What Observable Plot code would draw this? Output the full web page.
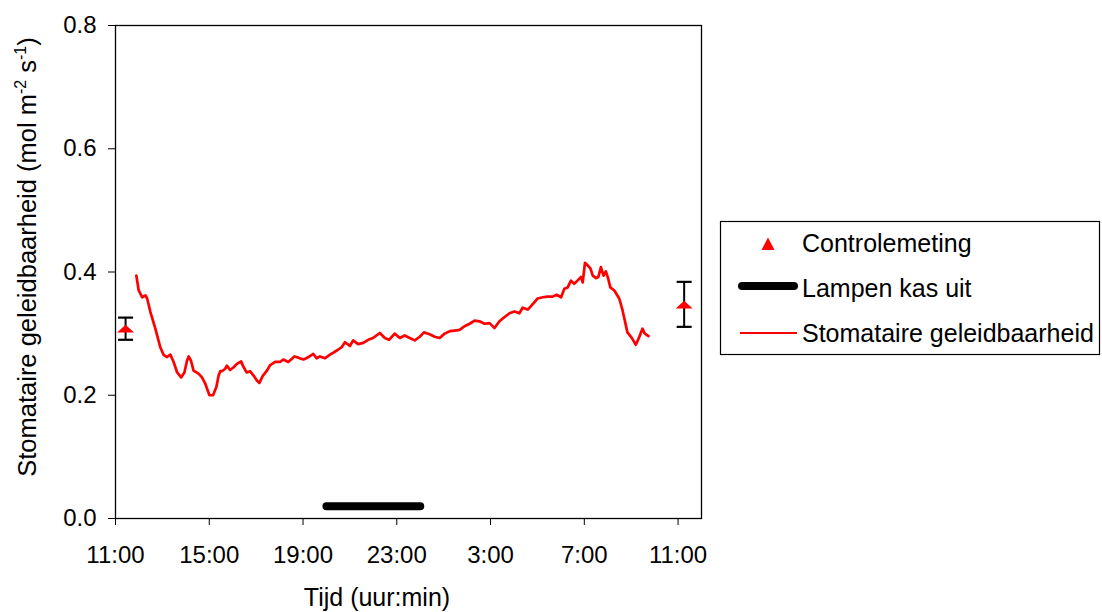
<!DOCTYPE html>
<html>
<head>
<meta charset="utf-8">
<script src="https://cdn.jsdelivr.net/npm/d3@7"></script>
<script src="https://cdn.jsdelivr.net/npm/@observablehq/plot@0.6"></script>
<style>
  html, body { margin: 0; padding: 0; background: white; }
  #chart svg { display: block; }
</style>
</head>
<body>
<div id="chart"></div>
<script>
// Time in hours since midnight of day 1 (values > 24 are the next day)
const hours = [11.89,11.99,12.14,12.28,12.35,12.49,12.70,12.91,13.06,13.20,13.34,13.48,13.63,13.80,13.94,14.05,14.12,14.22,14.33,14.54,14.69,14.83,14.93,15.01,15.16,15.30,15.40,15.47,
  15.54,15.68,15.75,15.89,16.03,16.18,16.36,16.46,16.60,16.74,16.89,17.03,17.14,17.29,17.46,17.60,17.81,18.02,18.16,18.37,18.63,18.80,19.01,
  19.09,19.23,19.44,19.58,19.72,19.94,20.15,20.29,20.46,20.65,20.79,21.00,21.14,21.35,21.57,21.78,21.99,22.28,22.49,22.67,
  22.91,23.13,23.34,23.55,23.77,23.98,24.16,24.40,24.62,24.83,25.04,25.26,25.47,25.68,25.89,26.11,
  26.32,26.53,26.74,26.96,27.17,27.38,27.60,27.81,28.02,28.23,28.37,28.59,28.80,29.01,29.23,29.44,29.65,29.82,
  30.01,30.15,30.29,30.43,30.57,30.71,30.86,30.93,31.03,31.14,31.26,31.36,31.50,31.60,31.71,31.82,31.92,32.02,32.11,32.28,32.49,32.63,32.73,32.84,33.01,33.20,33.34,33.48,33.58,33.74];
const conductance = [0.394,0.370,0.359,0.362,0.357,0.335,0.308,0.278,0.265,0.262,0.266,0.254,0.237,0.229,0.237,0.256,0.263,0.256,0.240,0.235,0.229,0.219,0.208,0.200,0.200,0.213,0.232,0.239,
  0.239,0.243,0.248,0.241,0.245,0.251,0.255,0.246,0.237,0.239,0.232,0.224,0.220,0.232,0.240,0.249,0.254,0.254,0.258,0.254,0.263,0.261,0.258,
  0.259,0.262,0.267,0.260,0.263,0.260,0.266,0.269,0.273,0.278,0.286,0.280,0.289,0.283,0.285,0.290,0.293,0.301,0.293,0.290,
  0.300,0.293,0.297,0.293,0.289,0.295,0.302,0.299,0.295,0.293,0.300,0.304,0.305,0.306,0.312,0.316,
  0.321,0.320,0.316,0.317,0.309,0.320,0.327,0.333,0.336,0.333,0.342,0.339,0.348,0.357,0.359,0.360,0.360,0.363,
  0.359,0.373,0.375,0.386,0.381,0.386,0.392,0.383,0.415,0.411,0.406,0.394,0.390,0.392,0.408,0.394,0.401,0.389,0.375,0.370,0.357,0.338,0.321,0.302,0.294,0.282,0.294,0.308,0.300,0.296];

// Control measurements (mean with error bar)
const controlHours = [11.43, 35.26];
const controlMean = [0.308, 0.347];
const controlLow = [0.290, 0.311];
const controlHigh = [0.326, 0.384];

// Greenhouse lamps off period
const lampHours = [20, 24];
const lampLevel = [0.02, 0.02];

// Axes
const xTicks = [11, 15, 19, 23, 27, 31, 35];
const xTickLabels = ["11:00", "15:00", "19:00", "23:00", "3:00", "7:00", "11:00"];
const yTicks = [0, 0.2, 0.4, 0.6, 0.8];
const yTickLabels = ["0.0", "0.2", "0.4", "0.6", "0.8"];

const xTitle = "Tijd (uur:min)";
const legendLabels = ["Controlemeting", "Lampen kas uit", "Stomataire geleidbaarheid"];

const series = hours.map((h, i) => ({h, v: conductance[i]}));
const control = controlHours.map((h, i) => ({h, mean: controlMean[i], lo: controlLow[i], hi: controlHigh[i]}));
const lamp = lampHours.map((h, i) => ({h, v: lampLevel[i]}));

// Triangle centered on its bounding box (as in the original software)
const triSymbol = {
  draw(ctx, size) {
    const r = Math.sqrt(size / Math.PI);
    const hh = r * 0.9;
    ctx.moveTo(0, -hh / 2);
    ctx.lineTo(r, hh / 2);
    ctx.lineTo(-r, hh / 2);
    ctx.closePath();
  }
};
const capSymbol = {
  draw(ctx, size) {
    const r = Math.sqrt(size / Math.PI);
    ctx.moveTo(-r, 0);
    ctx.lineTo(r, 0);
  }
};

const FONT = "'Liberation Sans', Arial, Helvetica, sans-serif";

const chart = Plot.plot({
  width: 1102,
  height: 612,
  marginLeft: 115,
  marginRight: 401,
  marginTop: 25,
  marginBottom: 94,
  style: {fontFamily: FONT, fontSize: "24px", color: "black", background: "white", overflow: "visible"},
  x: {domain: [11, 36]},
  y: {domain: [0, 0.8]},
  r: {type: "identity"},
  marks: [
    Plot.axisX({ticks: xTicks, tickFormat: d => xTickLabels[xTicks.indexOf(d)], tickSize: 7, tickPadding: 20, label: null, fontSize: 24}),
    Plot.axisY({ticks: yTicks, tickFormat: d => yTickLabels[yTicks.indexOf(d)], tickSize: 7, tickPadding: 12, label: null, fontSize: 24}),
    Plot.frame({stroke: "black", strokeWidth: 1.3}),
    Plot.line(lamp, {x: "h", y: "v", stroke: "black", strokeWidth: 8, strokeLinecap: "round"}),
    Plot.line(series, {x: "h", y: "v", stroke: "#ff0000", strokeWidth: 2.7, strokeLinejoin: "round"}),
    Plot.ruleX(control, {x: "h", y1: "lo", y2: "hi", stroke: "black", strokeWidth: 2}),
    Plot.dot(control, {x: "h", y: "lo", symbol: capSymbol, r: 7.5, stroke: "black", strokeWidth: 2.2, fill: "none"}),
    Plot.dot(control, {x: "h", y: "hi", symbol: capSymbol, r: 7.5, stroke: "black", strokeWidth: 2.2, fill: "none"}),
    Plot.dot(control, {x: "h", y: "mean", symbol: triSymbol, r: 8.5, fill: "#ff0000", stroke: "none"})
  ]
});

document.getElementById("chart").appendChild(chart);

const svg = d3.select(chart);

// X axis title
svg.append("text")
  .attr("x", 377).attr("y", 606)
  .attr("text-anchor", "middle")
  .attr("font-family", FONT).attr("font-size", 25).attr("fill", "black")
  .text(xTitle);

// Y axis title with superscripts
const yt = svg.append("text")
  .attr("transform", "translate(36,257) rotate(-90)")
  .attr("text-anchor", "middle")
  .attr("font-family", FONT).attr("font-size", 25.5).attr("fill", "black");
yt.append("tspan").text("Stomataire geleidbaarheid (mol m");
yt.append("tspan").attr("font-size", 16).attr("dy", -10).text("-2");
yt.append("tspan").attr("dy", 10).text(" s");
yt.append("tspan").attr("font-size", 16).attr("dy", -10).text("-1");
yt.append("tspan").attr("dy", 10).text(")");

// Legend
const lg = svg.append("g").attr("font-family", FONT).attr("font-size", 25).attr("fill", "black").attr("text-anchor", "start");
lg.append("rect").attr("x", 720.5).attr("y", 221.5).attr("width", 379).attr("height", 133)
  .attr("fill", "white").attr("stroke", "black").attr("stroke-width", 1.2);
lg.append("path").attr("d", "M768,237.5 L774.5,250 L761.5,250 Z").attr("fill", "#ff0000");
lg.append("line").attr("x1", 742).attr("x2", 794).attr("y1", 286).attr("y2", 286)
  .attr("stroke", "black").attr("stroke-width", 8).attr("stroke-linecap", "round");
lg.append("line").attr("x1", 740).attr("x2", 797).attr("y1", 333).attr("y2", 333)
  .attr("stroke", "#ff0000").attr("stroke-width", 2);
const ys = [252, 297, 342];
legendLabels.forEach((t, i) => {
  lg.append("text").attr("x", 802).attr("y", ys[i]).attr("text-anchor", "start").text(t);
});
</script>
</body>
</html>
